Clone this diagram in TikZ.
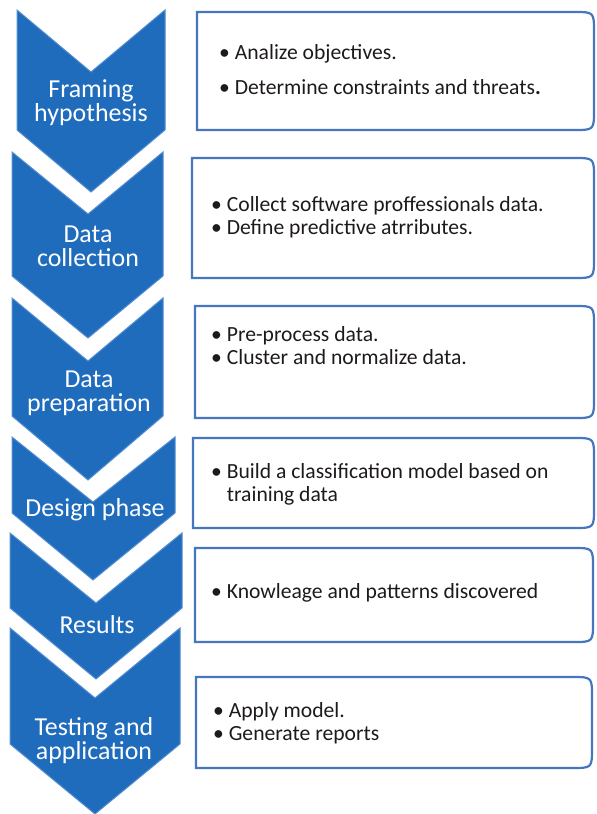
\documentclass[tikz,border=0pt]{standalone}
\usepackage{fontspec}
\setmainfont{Carlito}

\definecolor{chevblue}{RGB}{31,108,189}
\definecolor{chevedge}{RGB}{84,142,208}
\definecolor{boxedge}{RGB}{70,118,192}
\definecolor{boxtext}{RGB}{30,26,26}

\tikzset{
  phase/.style={fill=chevblue, draw=chevedge, line width=1bp, line join=miter},
  phaselabel/.style={text=white, align=center, inner sep=0pt, font=\fontsize{26}{24}\selectfont},
  infobox/.style={draw=boxedge, line width=2.2bp},
  infotext/.style={text=boxtext, align=left, anchor=west, inner sep=0pt, font=\fontsize{21.7}{23}\selectfont},
}

\begin{document}
\begin{tikzpicture}[x=1bp, y=-1bp]
    \useasboundingbox (0,0) rectangle (597,814);

    % chevrons
    \draw[phase] (17,10) -- (91,72) -- (165,10) -- (165,130) -- (91,192) -- (17,130) -- cycle;
    \draw[phase] (12,152) -- (88,214) -- (163,152) -- (163,276) -- (88,338) -- (12,276) -- cycle;
    \draw[phase] (12,298) -- (88,361) -- (163,298) -- (163,416) -- (88,480) -- (12,416) -- cycle;
    \draw[phase] (12,437) -- (93,502) -- (175,437) -- (175,513) -- (93,580) -- (12,513) -- cycle;
    \draw[phase] (10,533) -- (96,603) -- (182,533) -- (182,608) -- (96,679) -- (10,608) -- cycle;
    \draw[phase] (10,628) -- (95,698) -- (180,628) -- (180,744) -- (95,814) -- (10,744) -- cycle;

    \node[phaselabel] (framing) at (91,103) {Framing\\hypothesis};
    \node[phaselabel] (collection) at (88,246) {Data\\collection};
    \node[phaselabel] (preparation) at (89,393) {Data\\preparation};
    \node[phaselabel] (design) at (95,510) {Design phase};
    \node[phaselabel] (results) at (97,625) {Results};
    \node[phaselabel] (testing) at (94,741) {Testing and\\application};

    % boxes
    \draw[infobox] (197,12) -- (574,12) .. controls (594,12) .. (594,32) -- (594,110) .. controls (594,130) .. (574,130) -- (197,130) -- cycle;
    \draw[infobox] (192,158) -- (574,158) .. controls (594,158) .. (594,178) -- (594,258) .. controls (594,278) .. (574,278) -- (192,278) -- cycle;
    \draw[infobox] (195,306) -- (574,306) .. controls (594,306) .. (594,326) -- (594,398) .. controls (594,418) .. (574,418) -- (195,418) -- cycle;
    \draw[infobox] (193,438) -- (574,438) .. controls (594,438) .. (594,458) -- (594,508) .. controls (594,528) .. (574,528) -- (193,528) -- cycle;
    \draw[infobox] (195,548) -- (573,548) .. controls (593,548) .. (593,568) -- (593,622) .. controls (593,642) .. (573,642) -- (195,642) -- cycle;
    \draw[infobox] (196,677) -- (572,677) .. controls (592,677) .. (592,697) -- (592,748) .. controls (592,768) .. (572,768) -- (196,768) -- cycle;

    \node[infotext] (objectives) at (219,70) {\textbullet\ Analize objectives.\\[12bp]\textbullet\ Determine constraints and threats\textbf{.}};
    \node[infotext] (collect) at (211,217) {\textbullet\ Collect software proffessionals data.\\\textbullet\ Define predictive atrributes.};
    \node[infotext] (preprocess) at (211,346) {\textbullet\ Pre-process data.\\\textbullet\ Cluster and normalize data.};
    \node[infotext] (build) at (211,484) {\textbullet\ Build a classification model based on\\\hphantom{\textbullet\ }training data};
    \node[infotext] (knowledge) at (211,593) {\textbullet\ Knowleage and patterns discovered};
    \node[infotext] (apply) at (213,723) {\textbullet\ Apply model.\\\textbullet\ Generate reports};
\end{tikzpicture}
\end{document}
